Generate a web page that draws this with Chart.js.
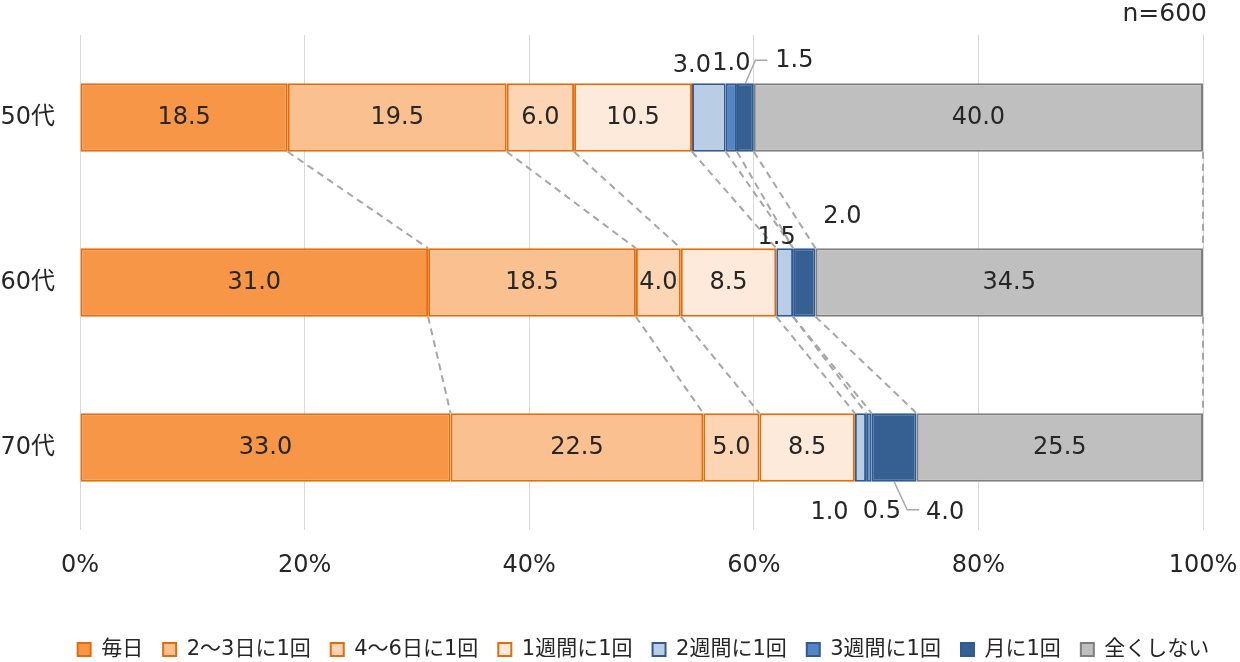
<!DOCTYPE html>
<html lang="ja">
<head>
<meta charset="UTF-8" />
<title>頻度 年代別</title>
<script src="https://cdn.jsdelivr.net/npm/chart.js"></script>
<style>
  body { margin: 0; background: #fff; }
  #wrap { width: 1240px; height: 662px; position: relative; }
</style>
</head>
<body>
<div id="wrap"><canvas id="c"></canvas></div>
<script>
// 年代
const ages = ["50代", "60代", "70代"];
// 回答区分
const seriesNames = ["毎日", "2～3日に1回", "4～6日に1回", "1週間に1回", "2週間に1回", "3週間に1回", "月に1回", "全くしない"];
// 各区分の割合 (%) 50代, 60代, 70代
const mainichi   = [18.5, 31.0, 33.0];
const sanNichi   = [19.5, 18.5, 22.5];
const rokuNichi  = [6.0, 4.0, 5.0];
const isshukan   = [10.5, 8.5, 8.5];
const nishukan   = [3.0, 1.5, 1.0];
const sanshukan  = [1.0, 0.0, 0.5];
const tsuki      = [1.5, 2.0, 4.0];
const mattaku    = [40.0, 34.5, 25.5];
const xTicks = [0, 20, 40, 60, 80, 100];
const sampleNote = "n=600";

const values = [mainichi, sanNichi, rokuNichi, isshukan, nishukan, sanshukan, tsuki, mattaku];
const fills = ["#F79646", "#FAC090", "#FCD5B5", "#FDEADA", "#B9CDE5", "#5484C4", "#366092", "#BFBFBF"];
const borders = ["#E46C0A", "#E46C0A", "#E46C0A", "#E46C0A", "#2F5A92", "#2F5A92", "#2F5A92", "#7F7F7F"];

// 小さい値のラベル位置 (行-系列)
const outside = {
  "0-4": { dx: -17, dy: -17 },
  "0-5": { dx: 0, dy: -19 },
  "0-6": { dx: 49, dy: -22, leader: [[0, 0], [10, -23], [22, -23]] },
  "1-4": { dx: -8, dy: -10 },
  "1-6": { dx: 38, dy: -31 },
  "2-4": { dx: -31, dy: 31 },
  "2-5": { dx: 13, dy: 30 },
  "2-6": { dx: 51, dy: 31, leader: [[0, 0], [13, 28], [25, 28]] }
};

const FONT = "'DejaVu Sans', 'Noto Sans CJK JP', sans-serif";
Chart.defaults.font.family = FONT;
Chart.defaults.color = "#262626";

const extras = {
  id: "extras",
  afterLayout(chart) {
    // 凡例の位置調整
    const lg = chart.legend;
    lg.top += 12; lg.bottom += 12;
    lg.left += 42; lg.right += 42;
  },
  afterDatasetsDraw(chart) {
    const ctx = chart.ctx;
    const xs = chart.scales.x;
    const metas = values.map((_, i) => chart.getDatasetMeta(i));
    ctx.save();

    // 系列間の点線
    ctx.strokeStyle = "#A6A6A6";
    ctx.lineWidth = 2;
    ctx.setLineDash([7, 5]);
    for (let r = 0; r < ages.length - 1; r++) {
      let c1 = 0, c2 = 0;
      for (let i = 0; i < values.length; i++) {
        c1 += values[i][r];
        c2 += values[i][r + 1];
        const a = metas[i].data[r], b = metas[i].data[r + 1];
        ctx.beginPath();
        ctx.moveTo(xs.getPixelForValue(c1), a.y + a.height / 2);
        ctx.lineTo(xs.getPixelForValue(c2), b.y - b.height / 2);
        ctx.stroke();
      }
    }
    ctx.setLineDash([]);

    // ラベル
    ctx.font = "24px " + FONT;
    ctx.textAlign = "center";
    ctx.textBaseline = "middle";
    for (let i = 0; i < values.length; i++) {
      for (let r = 0; r < ages.length; r++) {
        const v = values[i][r];
        if (!v) continue;
        const el = metas[i].data[r];
        const cx = (el.x + el.base) / 2;
        const top = el.y - el.height / 2, bot = el.y + el.height / 2;
        const o = outside[r + "-" + i];
        let tx = cx, ty = el.y;
        if (o) {
          const ref = o.dy < 0 ? top : bot;
          tx = cx + o.dx;
          ty = ref + o.dy;
          if (o.leader) {
            ctx.strokeStyle = "#A6A6A6";
            ctx.lineWidth = 1.5;
            ctx.beginPath();
            o.leader.forEach(([lx, ly], k) => {
              if (k === 0) ctx.moveTo(cx + lx, ref + ly);
              else ctx.lineTo(cx + lx, ref + ly);
            });
            ctx.stroke();
          }
        }
        ctx.fillStyle = "#262626";
        ctx.fillText(v.toFixed(1), tx, ty);
      }
    }

    // n=
    ctx.textAlign = "right";
    ctx.font = "25px " + FONT;
    ctx.fillText(sampleNote, chart.chartArea.right + 4, 14);
    ctx.restore();
  }
};

new Chart(document.getElementById("c"), {
  type: "bar",
  data: {
    labels: ages,
    datasets: values.map((d, i) => ({
      label: seriesNames[i],
      data: d,
      backgroundColor: fills[i],
      borderColor: borders[i],
      borderWidth: 2,
      borderSkipped: false,
      categoryPercentage: 1,
      barPercentage: 0.415
    }))
  },
  options: {
    indexAxis: "y",
    responsive: true,
    maintainAspectRatio: false,
    animation: false,
    layout: { padding: { top: 35, right: 37, left: 0, bottom: 4 } },
    scales: {
      x: {
        stacked: true,
        min: 0,
        max: 100,
        afterBuildTicks(s) { s.ticks = xTicks.map(v => ({ value: v })); },
        afterFit(s) { s.paddingLeft = 0; s.paddingRight = 0; s.height = 77; },
        grid: { color: "#D9D9D9", lineWidth: 1, drawTicks: false },
        border: { display: false },
        ticks: {
          padding: 21,
          font: { size: 24 },
          color: "#262626",
          maxRotation: 0,
          callback: v => v + "%"
        }
      },
      y: {
        stacked: true,
        grid: { display: false, drawTicks: false },
        border: { display: false },
        afterFit(s) { s.width = 80; s.paddingTop = 0; s.paddingBottom = 0; },
        ticks: { padding: 25, font: { size: 24 }, color: "#262626" }
      }
    },
    plugins: {
      legend: {
        position: "bottom",
        labels: {
          boxWidth: 13,
          boxHeight: 13,
          padding: 20,
          font: { size: 21 },
          color: "#262626"
        }
      },
      tooltip: { enabled: false }
    }
  },
  plugins: [extras]
});
</script>
</body>
</html>
